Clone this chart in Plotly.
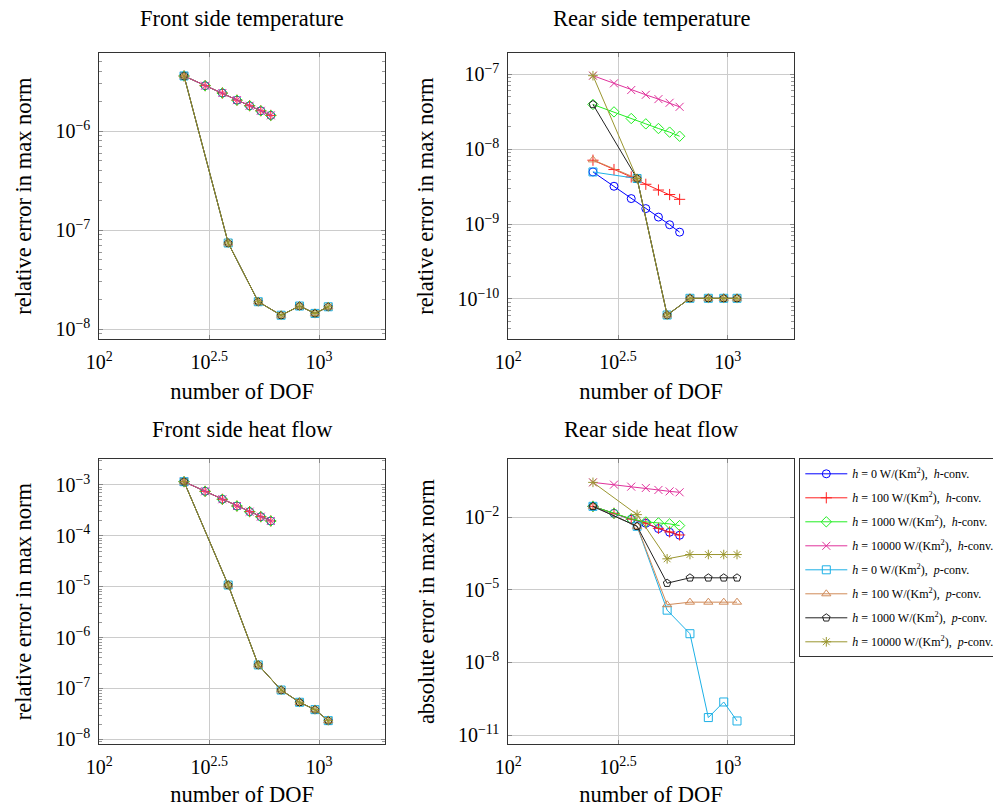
import plotly.graph_objects as go
import numpy as np

# ---------------- data ----------------
dof_h = [243, 303, 363, 423, 483, 543, 603]
dof_p = [243, 386, 529, 672, 815, 958, 1101]

# Front side temperature (all h-conv curves coincide, all p-conv curves coincide)
ft_h = [3.6e-6, 2.87e-6, 2.42e-6, 2.05e-6, 1.80e-6, 1.60e-6, 1.44e-6]
ft_p = [3.6e-6, 7.4e-8, 1.89e-8, 1.38e-8, 1.71e-8, 1.44e-8, 1.68e-8]

# Rear side temperature
rt_h0 = [4.97e-9, 3.2e-9, 2.19e-9, 1.61e-9, 1.24e-9, 9.8e-10, 7.8e-10]
rt_h100 = [7.13e-9, 5.35e-9, 4.26e-9, 3.40e-9, 2.85e-9, 2.48e-9, 2.14e-9]
rt_h1000 = [3.96e-8, 3.15e-8, 2.57e-8, 2.18e-8, 1.89e-8, 1.69e-8, 1.49e-8]
rt_h10000 = [9.6e-8, 7.58e-8, 6.17e-8, 5.33e-8, 4.67e-8, 4.17e-8, 3.68e-8]
rt_p0 = [4.97e-9, 4.06e-9, 6.1e-11, 1.02e-10, 1.02e-10, 1.02e-10, 1.02e-10]
rt_p100 = [7.2e-9, 4.06e-9, 6.1e-11, 1.02e-10, 1.02e-10, 1.02e-10, 1.02e-10]
rt_p1000 = [3.96e-8, 4.06e-9, 6.1e-11, 1.02e-10, 1.02e-10, 1.02e-10, 1.02e-10]
rt_p10000 = [9.6e-8, 4.06e-9, 6.1e-11, 1.02e-10, 1.02e-10, 1.02e-10, 1.02e-10]

# Front side heat flow
fh_h = [1.16e-3, 7.52e-4, 5.24e-4, 3.86e-4, 2.99e-4, 2.38e-4, 1.96e-4]
fh_p = [1.16e-3, 1.08e-5, 2.9e-7, 9.3e-8, 5.35e-8, 3.83e-8, 2.33e-8]

# Rear side heat flow
rh_h0 = [0.0284, 0.0146, 8.26e-3, 5.65e-3, 3.42e-3, 2.41e-3, 1.81e-3]
rh_h100 = [0.0284, 0.0147, 8.4e-3, 5.75e-3, 3.5e-3, 2.48e-3, 1.86e-3]
rh_h1000 = [0.0284, 0.0146, 8.6e-3, 6.46e-3, 5.87e-3, 5.34e-3, 4.54e-3]
rh_h10000 = [0.278, 0.224, 0.185, 0.163, 0.135, 0.118, 0.108]
rh_p0 = [0.0284, 4.25e-3, 1.45e-6, 1.54e-7, 5.26e-11, 2.32e-10, 3.81e-11]
rh_p100 = [0.0284, 4.25e-3, 2.43e-6, 3.1e-6, 3.1e-6, 3.1e-6, 3.1e-6]
rh_p1000 = [0.0284, 4.25e-3, 1.89e-5, 3.15e-5, 3.15e-5, 3.15e-5, 3.15e-5]
rh_p10000 = [0.278, 0.0129, 1.92e-4, 2.89e-4, 2.89e-4, 2.89e-4, 2.89e-4]

h_values = ["0", "100", "1000", "10000"]
titles = ["Front side temperature", "Rear side temperature",
          "Front side heat flow", "Rear side heat flow"]
ylabels = ["relative error in max norm", "relative error in max norm",
           "relative error in max norm", "absolute error in max norm"]
x_ticks = [100, 10 ** 2.5, 1000]
x_ticktext = ["10<sup>2</sup>", "10<sup>2.5</sup>", "10<sup>3</sup>"]

# ---------------- styles ----------------
FONT = "Liberation Serif, Times New Roman, serif"
BIG = 22.5
TICK = 20
colors_h = ["#0000ff", "#ff2020", "#22ee22", "#e0329c"]
symbols_h = ["circle-open", "cross-thin-open", "diamond-open", "x-thin-open"]
colors_p = ["#1cb0e6", "#d08a58", "#222222", "#9a9630"]
symbols_p = ["square-open", "triangle-up-open", "pentagon-open", "asterisk-open"]

panels = [
    dict(h=[ft_h, ft_h, ft_h, ft_h], p=[ft_p, ft_p, ft_p, ft_p],
         yr=[-8.1, -5.215], yt=[-8, -7, -6], minor=True),
    dict(h=[rt_h0, rt_h100, rt_h1000, rt_h10000], p=[rt_p0, rt_p100, rt_p1000, rt_p10000],
         yr=[-10.535, -6.719], yt=[-10, -9, -8, -7], minor=True),
    dict(h=[fh_h, fh_h, fh_h, fh_h], p=[fh_p, fh_p, fh_p, fh_p],
         yr=[-8.098, -2.489], yt=[-8, -7, -6, -5, -4, -3], minor=True),
    dict(h=[rh_h0, rh_h100, rh_h1000, rh_h10000], p=[rh_p0, rh_p100, rh_p1000, rh_p10000],
         yr=[-11.384, 0.41], yt=[-11, -8, -5, -2], minor=False),
]

W, H = 993, 807
xdoms = [[99.3 / W, 385 / W], [508.3 / W, 793.7 / W]]
ydoms = [[1 - 339 / H, 1 - 53.3 / H], [1 - 744.3 / H, 1 - 459 / H]]
title_gap = [20, 15]

fig = go.Figure()
layout = dict(width=W, height=H, margin=dict(l=0, r=0, t=0, b=0, autoexpand=False),
              paper_bgcolor="white", plot_bgcolor="white",
              font=dict(family=FONT, size=TICK, color="black"),
              annotations=[])

for i, pan in enumerate(panels):
    r, c = divmod(i, 2)
    n = "" if i == 0 else str(i + 1)
    xa, ya = "x" + n, "y" + n
    show = (i == 3)
    for k in range(4):
        fig.add_trace(go.Scatter(
            x=dof_h, y=pan["h"][k], xaxis=xa, yaxis=ya, mode="lines+markers",
            name="<i>h</i> = %s W/(Km<sup>2</sup>),  <i>h</i>-conv." % h_values[k],
            legendgroup="h" + str(k), showlegend=show,
            line=dict(color=colors_h[k], width=1),
            marker=dict(symbol=symbols_h[k], size=8, color=colors_h[k],
                        line=dict(color=colors_h[k], width=1))))
    for k in range(4):
        fig.add_trace(go.Scatter(
            x=dof_p, y=pan["p"][k], xaxis=xa, yaxis=ya, mode="lines+markers",
            name="<i>h</i> = %s W/(Km<sup>2</sup>),  <i>p</i>-conv." % h_values[k],
            legendgroup="p" + str(k), showlegend=show,
            line=dict(color=colors_p[k], width=1),
            marker=dict(symbol=symbols_p[k], size=8, color=colors_p[k],
                        line=dict(color=colors_p[k], width=1))))

    ytv = [10.0 ** e for e in pan["yt"]]
    ytt = ["10<sup>\u2212%d</sup>" % (-e) for e in pan["yt"]]
    minor_vals = []
    if pan["minor"]:
        for e in range(int(np.floor(pan["yr"][0])) - 1, int(np.ceil(pan["yr"][1])) + 1):
            for d in range(2, 10):
                minor_vals.append(d * 10.0 ** e)
    layout["xaxis" + n] = dict(
        type="log", range=[2, 3.3], domain=xdoms[c], anchor=ya,
        tickmode="array", tickvals=x_ticks, ticktext=x_ticktext,
        ticks="inside", ticklen=4, tickcolor="#888", showgrid=True, gridcolor="#cccccc",
        gridwidth=1, showline=True, linecolor="#333", linewidth=1, mirror="allticks",
        zeroline=False, tickfont=dict(size=TICK, family=FONT), ticklabelstandoff=5,
        title=dict(text="number of DOF", font=dict(size=BIG, family=FONT), standoff=11))
    yax = dict(
        type="log", range=pan["yr"], domain=ydoms[r], anchor=xa,
        tickmode="array", tickvals=ytv, ticktext=ytt,
        ticks="inside", ticklen=4, tickcolor="#888", showgrid=True, gridcolor="#cccccc",
        gridwidth=1, showline=True, linecolor="#333", linewidth=1, mirror="allticks",
        zeroline=False, tickfont=dict(size=TICK, family=FONT), ticklabelstandoff=4,
        title=dict(text=ylabels[i], font=dict(size=BIG, family=FONT), standoff=17))
    if pan["minor"]:
        yax["minor"] = dict(tickmode="array", tickvals=minor_vals, ticks="inside",
                            ticklen=3, tickcolor="#999", showgrid=False)
    layout["yaxis" + n] = yax
    layout["annotations"].append(dict(
        text=titles[i], xref="paper", yref="paper",
        x=(xdoms[c][0] + xdoms[c][1]) / 2, y=ydoms[r][1] + title_gap[r] / H,
        xanchor="center", yanchor="bottom", showarrow=False,
        font=dict(size=BIG, family=FONT)))

layout["legend"] = dict(x=799.3 / W, y=1 - 458.3 / H, xanchor="left", yanchor="top",
                        bordercolor="#333", borderwidth=1, bgcolor="white",
                        font=dict(size=12, family=FONT), tracegroupgap=5,
                        itemwidth=42)
fig.update_layout(**layout)
fig.write_html("out.html")
